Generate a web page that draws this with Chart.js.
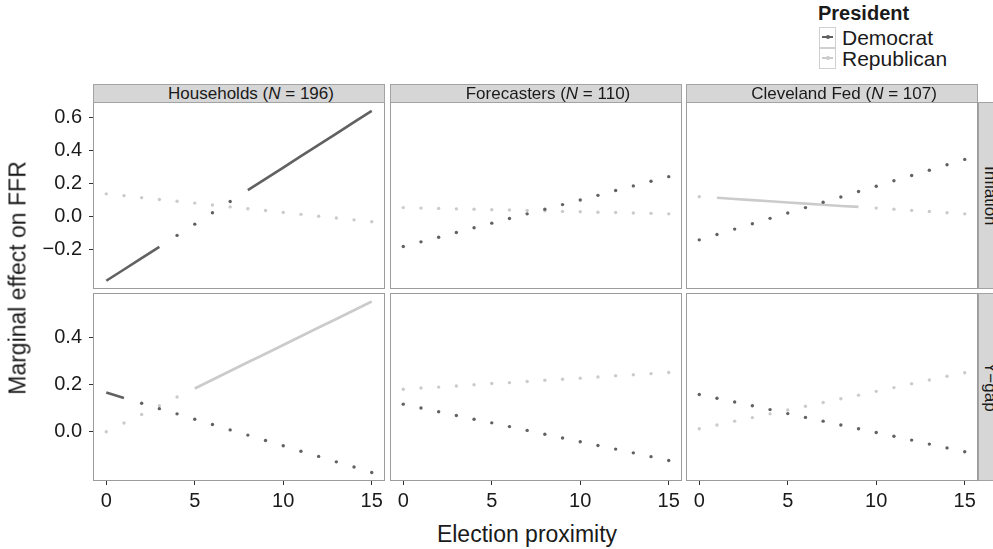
<!DOCTYPE html>
<html>
<head>
<meta charset="utf-8">
<script src="https://cdn.jsdelivr.net/npm/chart.js@4.4.1/dist/chart.umd.min.js"></script>
<style>
    body { margin: 0; width: 993px; height: 549px; overflow: hidden; background: #fff; position: relative;
           font-family: "Liberation Sans", Arial, sans-serif; color: #1a1a1a; }
    .box { position: absolute; }
    .strip { position: absolute; background: #d6d6d6; border: 1px solid #a3a3a3; box-sizing: border-box;
             text-align: center; font-size: 17px; line-height: 17px; white-space: nowrap; padding-left: 24px; }
    .strip.side { writing-mode: vertical-rl; line-height: 22px; padding-left: 0; }
    .title { position: absolute; font-size: 23px; white-space: nowrap; }
    .legend { position: absolute; left: 818px; top: 2px; font-size: 21px; }
    .legend b { display: block; font-size: 20px; height: 25px; }
    .key { position: relative; width: 17px; height: 21px; border: 1px solid #d0d0d0; box-sizing: border-box; margin-left: 1px; }
    .key i { position: absolute; left: 2px; right: 2px; top: 8px; height: 2px; }
    .key s { position: absolute; left: 6px; top: 7px; width: 4px; height: 4px; border-radius: 2px; }
    .item { display: flex; align-items: center; height: 21px; }
    .item span { margin-left: 6px; }
</style>
</head>
<body>
<script>
// election proximity (x) and axis ticks
const proximity = [0, 1, 2, 3, 4, 5, 6, 7, 8, 9, 10, 11, 12, 13, 14, 15];
const xTicks = [0, 5, 10, 15];
const xRange = [-0.75, 15.75];
const inflationTicks = [-0.2, 0.0, 0.2, 0.4, 0.6];
const inflationRange = [-0.436, 0.694];
const ygapTicks = [0.0, 0.2, 0.4];
const ygapRange = [-0.208, 0.587];

const groups = ["Households", "Forecasters", "Cleveland Fed"];
const groupN = [196, 110, 107];
const outcomes = ["Inflation", "Y\u2212gap"];
const parties = ["Democrat", "Republican"];

// marginal effects, inflation row
const inflHouseholdsDem = [-0.386, -0.318, -0.249, -0.181, -0.112, -0.044, 0.025, 0.093, 0.161, 0.230, 0.298, 0.367, 0.435, 0.503, 0.572, 0.640];
const inflHouseholdsRep = [0.139, 0.128, 0.116, 0.105, 0.094, 0.083, 0.072, 0.060, 0.049, 0.038, 0.027, 0.015, 0.004, -0.007, -0.018, -0.030];
const inflForecastersDem = [-0.179, -0.151, -0.123, -0.095, -0.066, -0.038, -0.010, 0.018, 0.046, 0.074, 0.102, 0.130, 0.159, 0.187, 0.215, 0.243];
const inflForecastersRep = [0.056, 0.053, 0.051, 0.048, 0.046, 0.043, 0.041, 0.038, 0.036, 0.033, 0.031, 0.028, 0.026, 0.023, 0.021, 0.018];
const inflClevelandDem = [-0.139, -0.107, -0.074, -0.042, -0.009, 0.023, 0.056, 0.088, 0.120, 0.153, 0.185, 0.218, 0.250, 0.282, 0.315, 0.347];
const inflClevelandRep = [0.122, 0.115, 0.108, 0.101, 0.094, 0.087, 0.080, 0.073, 0.066, 0.060, 0.053, 0.046, 0.039, 0.032, 0.025, 0.018];

// marginal effects, output gap row
const ygapHouseholdsDem = [0.166, 0.143, 0.121, 0.098, 0.076, 0.053, 0.031, 0.008, -0.014, -0.037, -0.059, -0.082, -0.104, -0.127, -0.149, -0.172];
const ygapHouseholdsRep = [0.000, 0.037, 0.073, 0.110, 0.147, 0.183, 0.220, 0.257, 0.294, 0.330, 0.367, 0.404, 0.441, 0.477, 0.514, 0.551];
const ygapForecastersDem = [0.117, 0.101, 0.085, 0.069, 0.053, 0.038, 0.022, 0.006, -0.010, -0.026, -0.042, -0.058, -0.073, -0.089, -0.105, -0.121];
const ygapForecastersRep = [0.180, 0.185, 0.189, 0.194, 0.199, 0.204, 0.208, 0.213, 0.218, 0.222, 0.227, 0.232, 0.237, 0.241, 0.246, 0.251];
const ygapClevelandDem = [0.158, 0.142, 0.126, 0.110, 0.094, 0.077, 0.061, 0.045, 0.029, 0.013, -0.003, -0.019, -0.035, -0.052, -0.068, -0.084];
const ygapClevelandRep = [0.013, 0.029, 0.045, 0.060, 0.076, 0.092, 0.108, 0.124, 0.140, 0.155, 0.171, 0.187, 0.203, 0.219, 0.235, 0.250];

// stretches of x that are drawn as solid lines (first, last)
const inflHouseholdsDemSig = [[0, 3], [8, 15]];
const inflClevelandRepSig = [[1, 9]];
const ygapHouseholdsDemSig = [[0, 1]];
const ygapHouseholdsRepSig = [[5, 15]];

const panels = [
    [
        { dem: inflHouseholdsDem, rep: inflHouseholdsRep, demSig: inflHouseholdsDemSig, repSig: [] },
        { dem: inflForecastersDem, rep: inflForecastersRep, demSig: [], repSig: [] },
        { dem: inflClevelandDem, rep: inflClevelandRep, demSig: [], repSig: inflClevelandRepSig }
    ],
    [
        { dem: ygapHouseholdsDem, rep: ygapHouseholdsRep, demSig: ygapHouseholdsDemSig, repSig: ygapHouseholdsRepSig },
        { dem: ygapForecastersDem, rep: ygapForecastersRep, demSig: [], repSig: [] },
        { dem: ygapClevelandDem, rep: ygapClevelandRep, demSig: [], repSig: [] }
    ]
];
const rowTicks = [inflationTicks, ygapTicks];
const rowRange = [inflationRange, ygapRange];

// layout
const panelLeft = [93, 390, 686];
const panelW = 292;
const panelTop = [102, 293];
const panelH = [187, 188];
const yAxisW = 70;
const xAxisH = 34;
const font = "'Liberation Sans', Arial, sans-serif";
const demColor = "#616161";
const repColor = "#cbcbcb";

function inSig(i, sig) {
    return sig.some(r => i >= r[0] && i <= r[1]);
}

const panelBorder = {
    id: "panelBorder",
    afterDraw(chart) {
        const a = chart.chartArea;
        const ctx = chart.ctx;
        ctx.save();
        ctx.strokeStyle = "#9c9c9c";
        ctx.lineWidth = 1;
        ctx.strokeRect(Math.round(a.left) + 0.5, Math.round(a.top) + 0.5, Math.round(a.right - a.left) - 1, Math.round(a.bottom - a.top) - 1);
        ctx.restore();
    }
};

function dotSet(values, sig, color) {
    return {
        data: proximity.filter((x, i) => !inSig(i, sig)).map(x => ({ x: x, y: values[x] })),
        showLine: false,
        pointRadius: 1.7,
        pointBorderWidth: 0,
        pointBackgroundColor: color
    };
}

function lineSet(values, sig, color) {
    return {
        data: proximity.map((x, i) => ({ x: x, y: inSig(i, sig) ? values[i] : null })),
        showLine: true,
        spanGaps: false,
        borderColor: color,
        borderWidth: 2.6,
        pointRadius: 0
    };
}

function makeChart(r, c) {
    const p = panels[r][c];
    const showY = c === 0;
    const showX = r === 1;
    const w = panelW + (showY ? yAxisW : 0);
    const h = panelH[r] + (showX ? xAxisH : 0);

    const box = document.createElement("div");
    box.className = "box";
    box.style.left = (panelLeft[c] - (showY ? yAxisW : 0)) + "px";
    box.style.top = panelTop[r] + "px";
    const canvas = document.createElement("canvas");
    canvas.width = w;
    canvas.height = h;
    canvas.style.width = w + "px";
    canvas.style.height = h + "px";
    box.appendChild(canvas);
    document.body.appendChild(box);

    new Chart(canvas, {
        type: "line",
        data: {
            datasets: [
                lineSet(p.dem, p.demSig, demColor),
                dotSet(p.dem, p.demSig, demColor),
                lineSet(p.rep, p.repSig, repColor),
                dotSet(p.rep, p.repSig, repColor)
            ]
        },
        options: {
            responsive: false,
            animation: false,
            events: [],
            layout: { padding: 0, autoPadding: false },
            plugins: { legend: { display: false }, tooltip: { enabled: false } },
            scales: {
                x: {
                    type: "linear",
                    display: showX,
                    min: xRange[0],
                    max: xRange[1],
                    afterBuildTicks: s => { s.ticks = xTicks.map(v => ({ value: v })); },
                    afterFit: s => {
                        s.paddingLeft = 0; s.paddingRight = 0;
                        if (showX) s.height = xAxisH;
                    },
                    grid: { drawOnChartArea: false, drawTicks: true, tickLength: 4, color: "#333" },
                    border: { display: false },
                    ticks: { font: { family: font, size: 20 }, color: "#1a1a1a", padding: 4, maxRotation: 0, autoSkip: false }
                },
                y: {
                    type: "linear",
                    display: showY,
                    min: rowRange[r][0],
                    max: rowRange[r][1],
                    afterBuildTicks: s => { s.ticks = rowTicks[r].map(v => ({ value: v })); },
                    afterFit: s => {
                        s.paddingTop = 0; s.paddingBottom = 0;
                        if (showY) s.width = yAxisW;
                    },
                    grid: { drawOnChartArea: false, drawTicks: true, tickLength: 4, color: "#333" },
                    border: { display: false },
                    ticks: {
                        font: { family: font, size: 20 }, color: "#1a1a1a", padding: 7, autoSkip: false,
                        callback: v => v.toFixed(1).replace("-", "\u2212")
                    }
                }
            }
        },
        plugins: [panelBorder]
    });
}

for (let r = 0; r < 2; r++) {
    for (let c = 0; c < 3; c++) makeChart(r, c);
}

// facet strips
groups.forEach((g, c) => {
    const s = document.createElement("div");
    s.className = "strip";
    s.style.left = panelLeft[c] + "px";
    s.style.top = "84px";
    s.style.width = panelW + "px";
    s.style.height = "19px";
    s.innerHTML = g + " (<i>N</i> = " + groupN[c] + ")";
    document.body.appendChild(s);
});
outcomes.forEach((o, r) => {
    const s = document.createElement("div");
    s.className = "strip side";
    s.style.left = "978px";
    s.style.top = panelTop[r] + "px";
    s.style.width = "24px";
    s.style.height = panelH[r] + "px";
    s.textContent = o;
    document.body.appendChild(s);
});

// axis titles
const xt = document.createElement("div");
xt.className = "title";
xt.textContent = "Election proximity";
xt.style.left = "527px";
xt.style.top = "521px";
xt.style.transform = "translateX(-50%)";
document.body.appendChild(xt);

const yt = document.createElement("div");
yt.className = "title";
yt.textContent = "Marginal effect on FFR";
yt.style.left = "18px";
yt.style.top = "278px";
yt.style.transform = "translate(-50%, -50%) rotate(-90deg)";
document.body.appendChild(yt);

// legend
const lg = document.createElement("div");
lg.className = "legend";
let html = "<b>President</b>";
parties.forEach((p, i) => {
    const col = i === 0 ? demColor : repColor;
    html += '<div class="item"><div class="key"><i style="background:' + col + '"></i><s style="background:' + col + '"></s></div><span>' + p + "</span></div>";
});
lg.innerHTML = html;
document.body.appendChild(lg);
</script>
</body>
</html>
